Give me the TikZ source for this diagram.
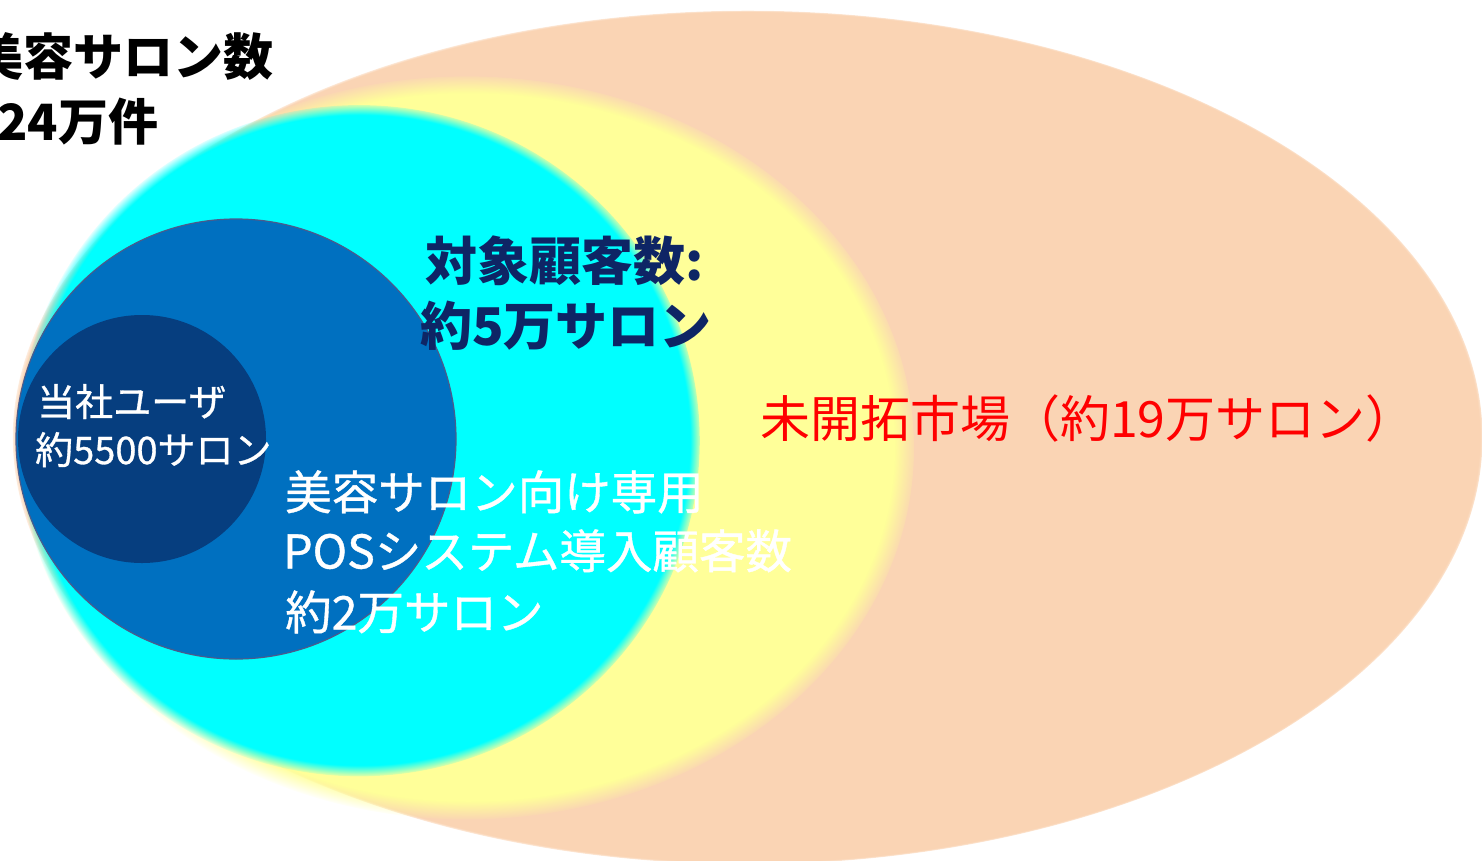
\documentclass[tikz,border=0pt]{standalone}
\usepackage{fontspec}
\newfontfamily\jp{Noto Sans CJK JP}
\newfontfamily\jpm{Noto Sans CJK JP}[FakeBold=0.8]
\usetikzlibrary{fadings}
\definecolor{peach}{HTML}{FAD4B4}
\definecolor{yel}{HTML}{FFFF99}
\definecolor{cyn}{HTML}{00FFFF}
\definecolor{posblue}{HTML}{0070C0}
\definecolor{userblue}{HTML}{063E7F}
\definecolor{rimcol}{HTML}{4A5B8C}
\definecolor{navytxt}{HTML}{0E2565}
\definecolor{redtxt}{HTML}{FF0000}
\pgfdeclareradialshading{shP}{\pgfpointorigin}{color(0bp)=(white); color(24.8bp)=(white); color(25bp)=(black); color(50bp)=(black)}
\pgfdeclarefading{fadeP}{\pgfuseshading{shP}}
\pgfdeclareradialshading{shY}{\pgfpointorigin}{color(0bp)=(white); color(23.7bp)=(white); color(25bp)=(black); color(50bp)=(black)}
\pgfdeclarefading{fadeY}{\pgfuseshading{shY}}
\pgfdeclareradialshading{shC}{\pgfpointorigin}{color(0bp)=(white); color(24.1bp)=(white); color(25bp)=(black); color(50bp)=(black)}
\pgfdeclarefading{fadeC}{\pgfuseshading{shC}}
\tikzset{
  lbl/.style={inner sep=0pt, anchor=base west},
  titletxt/.style={lbl, font=\jp\bfseries\fontsize{50}{50}\selectfont, text=black},
  targettxt/.style={lbl, font=\jp\bfseries\fontsize{52}{52}\selectfont, text=navytxt},
  usertxt/.style={lbl, font=\jpm\fontsize{38}{38}\selectfont, text=white},
  postxt/.style={lbl, font=\jpm\fontsize{46.5}{46.5}\selectfont, text=white},
  opentxt/.style={lbl, font=\jp\fontsize{50}{50}\selectfont, text=redtxt},
  ring/.style={circle, inner sep=0pt},
}
\begin{document}
\begin{tikzpicture}[x=1pt,y=-1pt]
\useasboundingbox (0,0) rectangle (1482,860);
% market areas
\fill[peach, path fading=fadeP] (748,437) ellipse [x radius=735pt, y radius=427pt];
\fill[yel, path fading=fadeY] (468,447) ellipse [x radius=448pt, y radius=372pt];
\fill[cyn, path fading=fadeC] (360,440) ellipse [x radius=341pt, y radius=336pt];
% POS circle and user circle
\node[ring, fill=posblue, draw=rimcol, line width=1.2pt, minimum size=440pt] (pos) at (236,439) {};
\node[ring, fill=userblue, minimum size=248pt] (user) at (142,439) {};
% texts
\node[titletxt] (t1) at (-27,75) {美容サロン数};
\node[titletxt] (t2) at (-3,140) {24万件};
\node[targettxt] (g1) at (425,280) {対象顧客数:};
\node[targettxt] (g2) at (420,345) {約5万サロン};
\node[usertxt] (u1) at (37,416) {当社ユーザ};
\node[usertxt] (u2) at (35,464) {約5500サロン};
\node[postxt] (p1) at (285,509.5) {美容サロン向け専用};
\node[postxt] (p2) at (283,568.5) {POSシステム導入顧客数};
\node[postxt] (p3) at (285,629.5) {約2万サロン};
\node[opentxt] (m1) at (760,437) {未開拓市場（約19万サロン）};
\end{tikzpicture}
\end{document}
